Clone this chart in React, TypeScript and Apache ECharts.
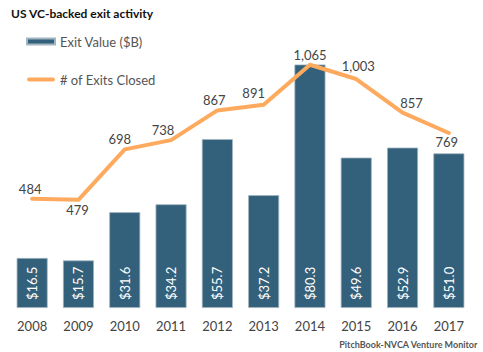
import React, { useEffect, useRef } from "react";
import * as echarts from "echarts";

const years = ["2008", "2009", "2010", "2011", "2012", "2013", "2014", "2015", "2016", "2017"];
const exitValues = [16.5, 15.7, 31.6, 34.2, 55.7, 37.2, 80.3, 49.6, 52.9, 51.0];
const exitCounts = [484, 479, 698, 738, 867, 891, 1065, 1003, 857, 769];
const countLabelBelow = [false, true, false, false, false, false, false, false, false, true];
const countLabelOffsets: [number, number][] = [
  [-2, 0], [-1, 0], [-5, 0], [-8, 0], [-3, 0], [-10, -2], [0, 0], [2, -3], [9, 0], [-2, -1],
];

const FONT = "Lato, 'Open Sans', sans-serif";
const BAR_COLOR = "#33607a";
const LINE_COLOR = "#fdaa5e";
const LINE_ICON = "path://M2,0 H26 A2,2 0 0 1 26,4 H2 A2,2 0 0 1 2,0 Z";

export default function App() {
  const ref = useRef<HTMLDivElement>(null);
  useEffect(() => {
    if (!ref.current) return;
    const chart = echarts.init(ref.current, undefined, { renderer: "svg" });
    chart.setOption({
      animation: false,
      backgroundColor: "#ffffff",
      textStyle: { fontFamily: FONT },
      title: {
        text: "US VC-backed exit activity",
        left: 6,
        top: 2,
        textStyle: { fontFamily: FONT, fontSize: 12, fontWeight: "bold", color: "#111" },
      },
      legend: {
        orient: "vertical",
        left: 21,
        top: 30,
        itemWidth: 28,
        itemHeight: 6,
        itemGap: 25,
        textStyle: { fontFamily: FONT, fontSize: 13, color: "#555" },
        data: [
          { name: "Exit Value ($B)", icon: "rect" },
          { name: "# of Exits Closed", icon: LINE_ICON, itemStyle: { color: LINE_COLOR } },
        ],
      },
      graphic: [
        {
          type: "text",
          right: 5,
          bottom: 3,
          style: {
            text: "PitchBook-NVCA Venture Monitor",
            fontFamily: FONT,
            fontSize: 9,
            fontWeight: "bold",
            fill: "#555",
          },
        },
      ],
      grid: { left: 9, right: 11, top: 29, bottom: 44 },
      xAxis: {
        type: "category",
        data: years,
        axisLine: { show: false },
        axisTick: { show: false },
        axisLabel: { fontFamily: FONT, fontSize: 13, color: "#444", margin: 11 },
      },
      yAxis: [
        { type: "value", min: 0, max: 92, show: false, splitLine: { show: false } },
        { type: "value", min: 10, max: 1220, show: false, splitLine: { show: false } },
      ],
      series: [
        {
          name: "Exit Value ($B)",
          type: "bar",
          yAxisIndex: 0,
          barCategoryGap: "33%",
          data: exitValues,
          itemStyle: { color: BAR_COLOR, borderColor: "#a3b5c0", borderWidth: 0.8 },
          label: {
            show: true,
            position: "insideBottom",
            rotate: 90,
            align: "left",
            verticalAlign: "middle",
            distance: 8,
            color: "#ffffff",
            fontFamily: FONT,
            fontSize: 13,
            formatter: (p: any) => "$" + Number(p.value).toFixed(1),
          },
        },
        {
          name: "# of Exits Closed",
          type: "line",
          yAxisIndex: 1,
          symbol: "circle",
          symbolSize: 1,
          showSymbol: true,
          lineStyle: { color: LINE_COLOR, width: 4, cap: "round", join: "round" },
          itemStyle: { color: LINE_COLOR },
          data: exitCounts.map((v, i) => ({
            value: v,
            label: {
              position: countLabelBelow[i] ? "bottom" : "top",
              offset: countLabelOffsets[i],
            },
          })),
          label: {
            show: true,
            distance: 3,
            color: "#444",
            fontFamily: FONT,
            fontSize: 13,
            formatter: (p: any) => Number(p.value).toLocaleString("en-US"),
          },
          z: 5,
        },
      ],
    });
    return () => chart.dispose();
  }, []);
  return (
    <div
      ref={ref}
      style={{ position: "fixed", left: 0, top: 0, width: 483, height: 352 }}
    />
  );
}
